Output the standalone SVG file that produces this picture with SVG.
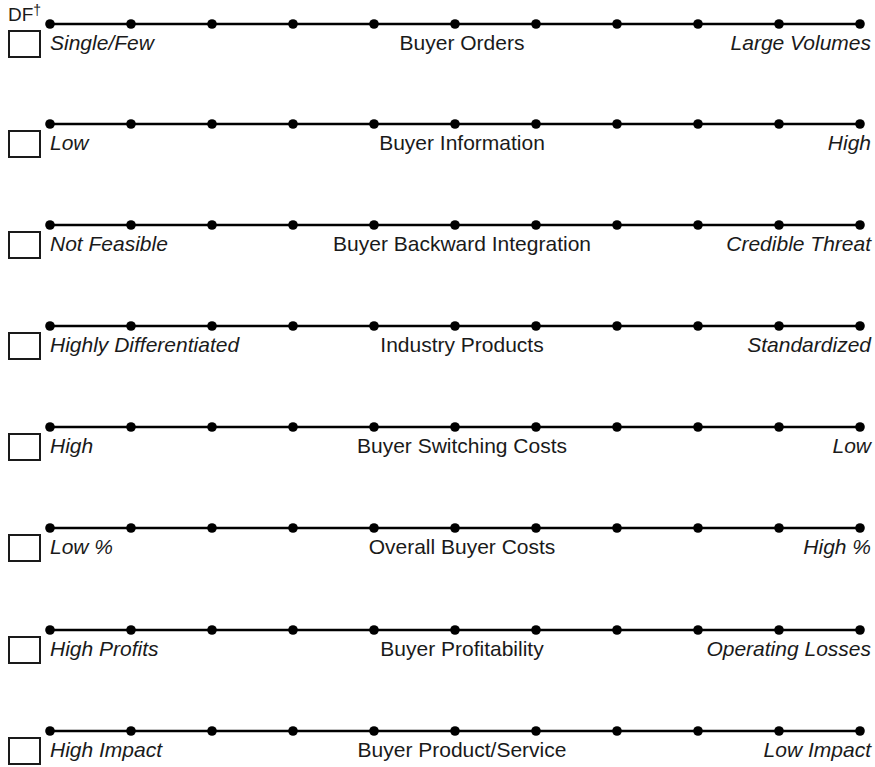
<svg xmlns="http://www.w3.org/2000/svg" width="875" height="767" viewBox="0 0 875 767">
  <style>
    .bar { stroke: #000; stroke-width: 2.6; fill: none; }
    .dot { fill: #000; }
    .box { fill: #fff; stroke: #1a1a1a; stroke-width: 2; }
    .lbl { font-family: "Liberation Sans", Arial, sans-serif; font-size: 21px; fill: #1a1a1a; }
    .end { font-style: italic; }
    .mid { text-anchor: middle; }
    .rt { text-anchor: end; }
  </style>
  <defs>
    <!-- one rating scale: bar with 11 points plus a tick box -->
    <g id="scale">
      <line class="bar" x1="50" y1="0" x2="860" y2="0"/>
      <circle class="dot" cx="50" cy="0" r="4.8"/>
      <circle class="dot" cx="131" cy="0" r="4.8"/>
      <circle class="dot" cx="212" cy="0" r="4.8"/>
      <circle class="dot" cx="293" cy="0" r="4.8"/>
      <circle class="dot" cx="374" cy="0" r="4.8"/>
      <circle class="dot" cx="455" cy="0" r="4.8"/>
      <circle class="dot" cx="536" cy="0" r="4.8"/>
      <circle class="dot" cx="617" cy="0" r="4.8"/>
      <circle class="dot" cx="698" cy="0" r="4.8"/>
      <circle class="dot" cx="779" cy="0" r="4.8"/>
      <circle class="dot" cx="860" cy="0" r="4.8"/>
      <rect class="box" x="9" y="7" width="31" height="26"/>
    </g>
  </defs>

  <text class="lbl" x="8" y="21" style="font-size:19px">DF<tspan dy="-6" style="font-size:14px">†</tspan></text>

  <g id="row-orders" transform="translate(0,24)">
    <use href="#scale"/>
    <text class="lbl end" x="50" y="26">Single/Few</text>
    <text class="lbl mid" x="462" y="26">Buyer Orders</text>
    <text class="lbl end rt" x="871" y="26">Large Volumes</text>
  </g>

  <g id="row-information" transform="translate(0,124)">
    <use href="#scale"/>
    <text class="lbl end" x="50" y="26">Low</text>
    <text class="lbl mid" x="462" y="26">Buyer Information</text>
    <text class="lbl end rt" x="871" y="26">High</text>
  </g>

  <g id="row-integration" transform="translate(0,225)">
    <use href="#scale"/>
    <text class="lbl end" x="50" y="26">Not Feasible</text>
    <text class="lbl mid" x="462" y="26">Buyer Backward Integration</text>
    <text class="lbl end rt" x="871" y="26">Credible Threat</text>
  </g>

  <g id="row-products" transform="translate(0,326)">
    <use href="#scale"/>
    <text class="lbl end" x="50" y="26">Highly Differentiated</text>
    <text class="lbl mid" x="462" y="26">Industry Products</text>
    <text class="lbl end rt" x="871" y="26">Standardized</text>
  </g>

  <g id="row-switching" transform="translate(0,427)">
    <use href="#scale"/>
    <text class="lbl end" x="50" y="26">High</text>
    <text class="lbl mid" x="462" y="26">Buyer Switching Costs</text>
    <text class="lbl end rt" x="871" y="26">Low</text>
  </g>

  <g id="row-costs" transform="translate(0,528)">
    <use href="#scale"/>
    <text class="lbl end" x="50" y="26">Low %</text>
    <text class="lbl mid" x="462" y="26">Overall Buyer Costs</text>
    <text class="lbl end rt" x="871" y="26">High %</text>
  </g>

  <g id="row-profitability" transform="translate(0,630)">
    <use href="#scale"/>
    <text class="lbl end" x="50" y="26">High Profits</text>
    <text class="lbl mid" x="462" y="26">Buyer Profitability</text>
    <text class="lbl end rt" x="871" y="26">Operating Losses</text>
  </g>

  <g id="row-product-service" transform="translate(0,731)">
    <use href="#scale"/>
    <text class="lbl end" x="50" y="26">High Impact</text>
    <text class="lbl mid" x="462" y="26">Buyer Product/Service</text>
    <text class="lbl end rt" x="871" y="26">Low Impact</text>
  </g>
</svg>
